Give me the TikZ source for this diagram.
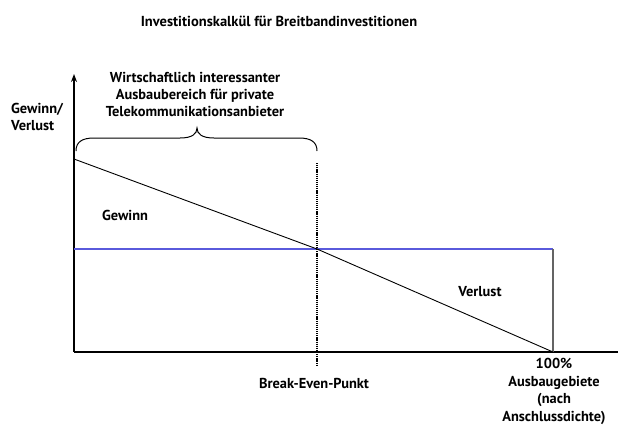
\documentclass[tikz,border=0pt]{standalone}
\usepackage{fontspec}
\setmainfont{PT Sans}
\usetikzlibrary{arrows.meta}
\definecolor{bluel}{RGB}{90,90,220}
\definecolor{grayl}{RGB}{100,100,100}
\tikzset{
  lbl/.style={font=\bfseries\fontsize{14.4}{17}\selectfont, inner sep=0pt, align=center},
  axis/.style={line width=2.2pt, black},
  dashv/.style={line width=2pt, dash pattern=on 1.2pt off 0.9pt},
}
\begin{document}
\begin{tikzpicture}[x=1pt,y=-1pt]
\useasboundingbox (0,0) rectangle (618,426);
% coordinates
\coordinate (O) at (74,352);
\coordinate (ytop) at (74,74);
\coordinate (xend) at (618,352);
\coordinate (start) at (74,159);
\coordinate (be) at (317,249);
\coordinate (bl) at (74,249);
\coordinate (br) at (553,249);
\coordinate (end) at (553,352);
\coordinate (dtop) at (317,163);
\coordinate (dbot) at (317,366);
% title
\node[lbl, font=\bfseries\fontsize{14.5}{17}\selectfont] (title) at (279,21) {Investitionskalkül für Breitbandinvestitionen};
% axes
\draw[axis, -{Stealth[length=8pt,width=6pt]}] (O) -- (ytop);
\draw[axis] (O) -- (xend);
% blue line and gray vertical
\draw[bluel, line width=1.2pt] (bl) -- (br);
\draw[grayl, line width=1.5pt] (br) -- (end);
% diagonal
\draw[black, line width=0.9pt] (start) -- (be) -- (end);
% dashed break-even
\draw[dashv] (dtop) -- (dbot);
% brace
\draw[line width=1pt] (76,151) .. controls (76,142) and (82,138) .. (94,138) -- (180,138)
  .. controls (192,138) and (197,134) .. (197,128)
  .. controls (197,134) and (202,138) .. (214,138) -- (299,138)
  .. controls (311,138) and (317,142) .. (317,151);
% labels
\node[lbl] (brl) at (195,94) {Wirtschaftlich interessanter\\Ausbaubereich für private\\Telekommunikationsanbieter};
\node[lbl, anchor=west, align=left] (yl) at (11,117) {Gewinn/\\Verlust};
\node[lbl] (gew) at (125,215) {Gewinn};
\node[lbl] (ver) at (480,292) {Verlust};
\node[lbl] (bep) at (314,383) {Break-Even-Punkt};
\node[lbl, font=\bfseries\fontsize{14.4}{17.4}\selectfont] (hund) at (554,391.5) {100\%\\Ausbaugebiete\\(nach\\Anschlussdichte)};
\end{tikzpicture}
\end{document}
